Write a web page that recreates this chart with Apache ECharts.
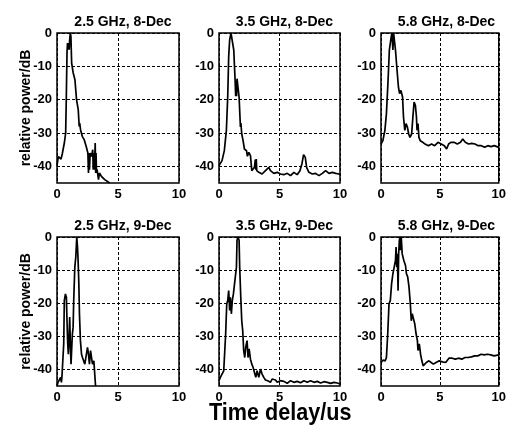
<!DOCTYPE html>
<html>
<head>
<meta charset="utf-8">
<script src="https://cdn.jsdelivr.net/npm/echarts@6/dist/echarts.min.js"></script>
<style>html,body{margin:0;padding:0;background:#fff}#main{width:509px;height:433px}</style>
</head>
<body>
<div id="main"></div>
<script>
// [delay in us, relative power in dB]
var p25Dec8 = [[0,-39.8],[0.11,-37.1],[0.33,-37.8],[0.43,-36.3],[0.6,-33],[0.71,-30],[0.76,-20],[0.82,-6],[0.86,-3],[0.9,-5],[0.95,-3],[1.0,-5],[1.03,-2.5],[1.09,0],[1.14,-1],[1.2,-9],[1.33,-12],[1.47,-14],[1.6,-20],[1.74,-23],[1.82,-28],[1.86,-27],[1.93,-29],[2.07,-31],[2.23,-32],[2.39,-34],[2.53,-36],[2.58,-42],[2.62,-36],[2.66,-41],[2.72,-36],[2.83,-37],[2.93,-35],[2.97,-41],[3.02,-36],[3.07,-41],[3.13,-33],[3.17,-42],[3.2,-36],[3.24,-42],[3.29,-41],[3.4,-44],[3.48,-42],[3.64,-43],[3.91,-44],[4.32,-45]];
var p35Dec8 = [[0,-39.8],[0.25,-38.3],[0.44,-35.3],[0.61,-29.2],[0.72,-19.2],[0.8,-7.1],[0.88,-2.1],[0.99,0],[1.1,-0.6],[1.22,-5.1],[1.33,-14.2],[1.38,-19],[1.41,-14.5],[1.45,-19],[1.49,-13.7],[1.6,-14.2],[1.66,-19.2],[1.77,-28.2],[1.81,-27],[1.88,-30.3],[1.99,-32.3],[2.1,-34.8],[2.27,-35.3],[2.35,-37],[2.46,-35.8],[2.6,-36.8],[2.71,-41.3],[2.82,-41.8],[2.93,-40.3],[3.0,-38],[3.04,-41],[3.08,-37.8],[3.12,-41.3],[3.29,-41.8],[3.56,-42.3],[3.84,-41.3],[4.12,-40.3],[4.25,-41.3],[4.53,-42.1],[4.81,-41.8],[5.08,-42.3],[5.36,-42.5],[5.64,-42.1],[5.91,-42.8],[6.19,-41.8],[6.46,-42.5],[6.69,-41.3],[6.85,-39.3],[6.99,-36.5],[7.13,-37.3],[7.24,-40.3],[7.43,-41.8],[7.71,-42.3],[7.98,-42.1],[8.26,-42.8],[8.54,-42.1],[8.81,-41.3],[9.09,-42.1],[9.36,-41.8],[9.64,-42.1],[9.92,-42.3],[10,-42.6]];
var p58Dec8 = [[0,-33.3],[0.16,-32.3],[0.33,-29.2],[0.46,-24.2],[0.6,-14.2],[0.71,-5.1],[0.79,-3.1],[0.87,-1.1],[0.93,0],[1.01,-5.1],[1.07,0],[1.15,0],[1.23,-5.1],[1.34,-10.2],[1.48,-16.2],[1.58,-18.2],[1.69,-17.2],[1.83,-19.2],[1.91,-25.2],[2.02,-29.2],[2.13,-27.2],[2.24,-28.2],[2.35,-30.3],[2.46,-31.3],[2.6,-30.3],[2.73,-24.2],[2.81,-20.7],[2.92,-21.7],[3.01,-25.2],[3.06,-29.2],[3.14,-27.2],[3.22,-31.3],[3.33,-32.3],[3.55,-32.8],[3.74,-33.3],[4.02,-33.8],[4.29,-33.3],[4.56,-33.8],[4.84,-32.8],[5.11,-33.3],[5.38,-33.8],[5.57,-34.8],[5.74,-33.3],[5.93,-32.8],[6.2,-32.8],[6.48,-33.3],[6.75,-32.8],[6.94,-31.8],[7.16,-32.8],[7.43,-33.3],[7.7,-33.1],[7.98,-33.3],[8.25,-33.8],[8.52,-33.8],[8.8,-34.3],[9.07,-33.8],[9.34,-34.1],[9.62,-33.8],[10,-34.3]];
var p25Dec9 = [[0,-45],[0.08,-43.9],[0.19,-43.4],[0.3,-42.4],[0.36,-43.9],[0.41,-41.9],[0.49,-42.4],[0.55,-32.3],[0.6,-19.2],[0.69,-17.2],[0.77,-18.2],[0.82,-25.3],[0.88,-32.3],[0.93,-35.4],[0.99,-30.3],[1.04,-24.2],[1.1,-33.3],[1.15,-38.4],[1.21,-33.3],[1.26,-29.3],[1.32,-27.3],[1.37,-19.2],[1.46,-9.1],[1.54,-6.1],[1.62,0],[1.68,-3],[1.73,-7.1],[1.79,-14.1],[1.84,-23.2],[1.92,-31.3],[2.01,-35.4],[2.09,-36.4],[2.17,-35.9],[2.28,-38.4],[2.39,-37.9],[2.5,-33.3],[2.58,-35.4],[2.66,-38.4],[2.75,-34.3],[2.83,-36.4],[2.91,-38.4],[3.02,-37.4],[3.1,-37.9],[3.16,-45]];
var p35Dec9 = [[0,-43.4],[0.11,-42.4],[0.25,-41.9],[0.39,-40.4],[0.47,-39.9],[0.55,-29.3],[0.64,-20.2],[0.72,-19.2],[0.8,-16.2],[0.88,-22.2],[0.94,-18.2],[1.02,-23.2],[1.1,-19.2],[1.19,-17.2],[1.27,-16.7],[1.35,-17.7],[1.44,-9.1],[1.49,-1],[1.57,0],[1.66,-1],[1.71,-9.1],[1.8,-18.2],[1.88,-25.3],[1.96,-28.3],[2.04,-34.3],[2.13,-36.4],[2.21,-33.3],[2.32,-31.3],[2.4,-36.4],[2.49,-33.8],[2.6,-36.9],[2.71,-38.4],[2.82,-39.4],[2.93,-40.9],[3.04,-42.4],[3.15,-40.4],[3.29,-42.4],[3.43,-39.9],[3.56,-41.4],[3.7,-42.4],[3.84,-43.2],[4.03,-43.4],[4.25,-43.9],[4.39,-42.9],[4.53,-43.4],[4.67,-43.2],[4.81,-43.9],[5.08,-43.4],[5.36,-43.6],[5.64,-44.2],[5.91,-43.4],[6.19,-43.9],[6.46,-43.6],[6.74,-44],[7.02,-43.4],[7.29,-43.9],[7.57,-43.4],[7.85,-43.9],[8.12,-43.6],[8.4,-44.1],[8.67,-43.7],[8.95,-43.9],[9.23,-44.2],[9.5,-43.9],[9.78,-44.1],[10,-44.4]];
var p58Dec9 = [[0,-37.9],[0.16,-37.2],[0.36,-37.4],[0.46,-36.4],[0.57,-29.3],[0.68,-20.2],[0.79,-19.2],[0.9,-14.1],[1.01,-11.1],[1.12,-9.1],[1.23,-7.1],[1.28,-3],[1.34,-9.1],[1.39,-5.1],[1.45,-16.2],[1.5,-5.1],[1.56,-1],[1.61,0],[1.67,-4],[1.72,0],[1.8,-5.1],[1.94,-7.1],[2.08,-8.6],[2.16,-11.1],[2.27,-12.1],[2.38,-15.2],[2.49,-20.2],[2.57,-25.3],[2.65,-23.2],[2.76,-23.7],[2.87,-26.3],[2.98,-29.3],[3.09,-31.3],[3.14,-34.3],[3.25,-32.3],[3.36,-35.4],[3.47,-37.4],[3.58,-38.9],[3.72,-38.6],[3.85,-37.9],[4.07,-37.4],[4.26,-37.9],[4.45,-38.4],[4.67,-37.9],[4.95,-37.4],[5.22,-37.7],[5.49,-37.9],[5.77,-36.6],[6.04,-36.6],[6.31,-36.9],[6.58,-36.6],[6.86,-36.9],[7.13,-36.4],[7.4,-36.4],[7.68,-36.2],[7.95,-35.9],[8.22,-35.9],[8.5,-35.4],[8.77,-35.6],[9.04,-35.4],[9.32,-35.6],[9.59,-35.9],[10,-35.6]];

var panelData = [p25Dec8, p35Dec8, p58Dec8, p25Dec9, p35Dec9, p58Dec9];
var panelTitles = ['2.5 GHz, 8-Dec', '3.5 GHz, 8-Dec', '5.8 GHz, 8-Dec', '2.5 GHz, 9-Dec', '3.5 GHz, 9-Dec', '5.8 GHz, 9-Dec'];
var yTicks = [0, -10, -20, -30, -40];
var xTicks = [0, 5, 10];

var font = '"Liberation Sans", Arial, sans-serif';
var boxes = [
    {left: 57, top: 33, width: 122, height: 150},
    {left: 219, top: 33, width: 121, height: 150},
    {left: 381, top: 33, width: 121, height: 150},
    {left: 57, top: 237, width: 122, height: 149},
    {left: 219, top: 237, width: 121, height: 149},
    {left: 381, top: 237, width: 121, height: 149}
];

var chart = echarts.init(document.getElementById('main'));
var option = {
    backgroundColor: '#fff',
    animation: false,
    title: [],
    grid: [],
    xAxis: [],
    yAxis: [],
    series: [],
    graphic: [{
        type: 'text',
        left: 209,
        top: 401,
        scaleX: 0.9,
        style: {text: 'Time delay/us', font: 'bold 24px ' + font, fill: '#000'}
    }]
};

var dash = {color: '#000', width: 1, type: [3, 2]};

for (var i = 0; i < 6; i++) {
    var b = boxes[i];
    option.title.push({
        text: panelTitles[i],
        left: b.left + b.width / 2,
        top: i < 3 ? 10 : 214,
        textAlign: 'center',
        textStyle: {fontFamily: font, fontSize: 14, fontWeight: 'bold', color: '#000'}
    });
    option.grid.push({
        left: b.left, top: b.top, width: b.width, height: b.height,
        show: true, borderColor: '#000', borderWidth: 1.5, backgroundColor: '#fff'
    });
    option.xAxis.push({
        type: 'value', gridIndex: i, min: 0, max: 10, interval: 5,
        axisLine: {show: false},
        axisTick: {show: false},
        axisLabel: {margin: 5, color: '#000', fontFamily: font, fontSize: 13, fontWeight: 'bold'},
        splitLine: {show: true, lineStyle: dash}
    });
    option.yAxis.push({
        type: 'value', gridIndex: i, min: -45, max: 0,
        name: i % 3 === 0 ? 'relative power/dB' : '',
        nameLocation: 'middle',
        nameGap: 24,
        nameMoveOverlap: false,
        nameTextStyle: {color: '#000', fontFamily: font, fontSize: 14, fontWeight: 'bold'},
        axisLine: {show: false},
        axisTick: {show: false, customValues: yTicks},
        axisLabel: {margin: 5, customValues: yTicks, color: '#000', fontFamily: font, fontSize: 13, fontWeight: 'bold'},
        splitLine: {show: true, lineStyle: dash}
    });
    option.series.push({
        type: 'line', xAxisIndex: i, yAxisIndex: i,
        data: panelData[i],
        showSymbol: false,
        lineStyle: {color: '#000', width: 1.7},
        z: 3
    });
}

chart.setOption(option);
</script>
</body>
</html>
